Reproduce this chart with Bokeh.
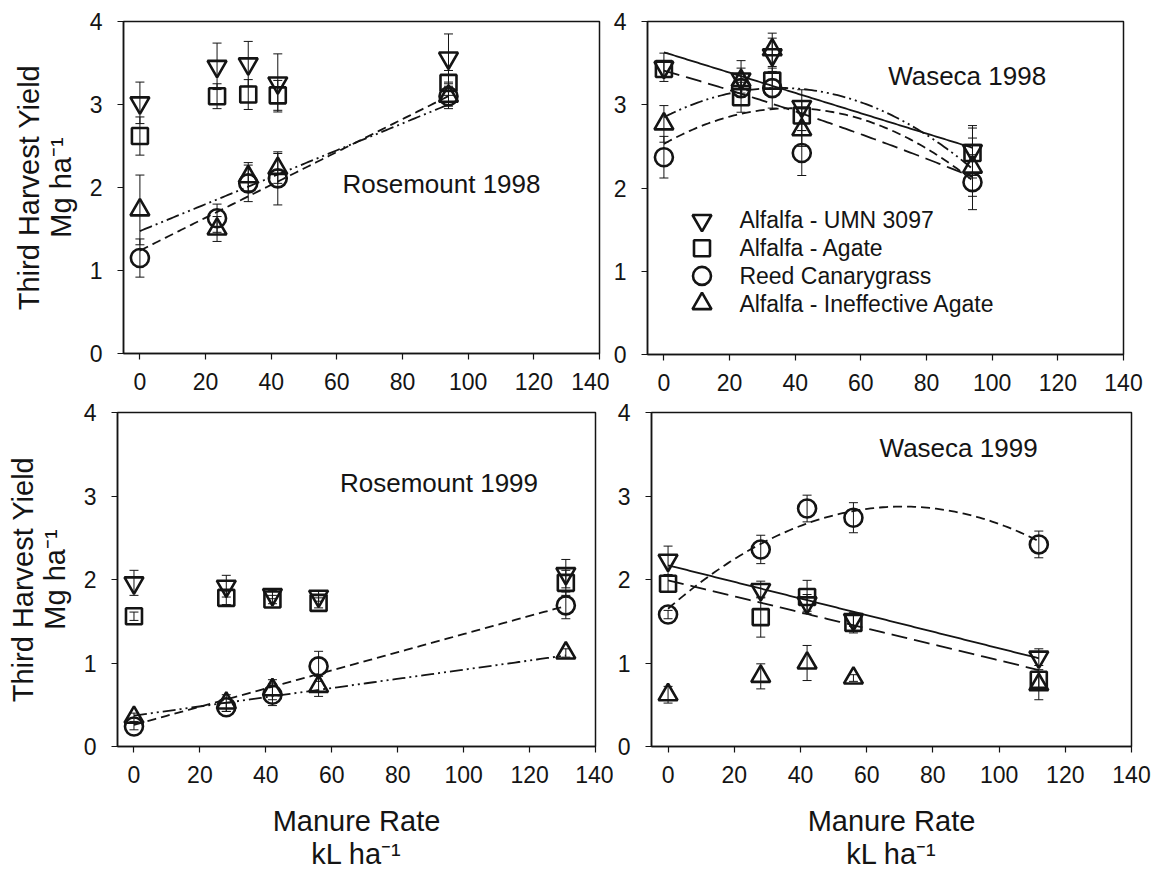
import numpy as np
from bokeh.plotting import figure
from bokeh.layouts import column, row
from bokeh.models import ColumnDataSource, Whisker, TeeHead, Label, FixedTicker
from bokeh.embed import file_html
from bokeh.resources import INLINE

# ---------------- data ----------------
series_names = ["Alfalfa - UMN 3097", "Alfalfa - Agate", "Reed Canarygrass",
                "Alfalfa - Ineffective Agate"]
x_ticks = [0, 20, 40, 60, 80, 100, 120, 140]
y_ticks = [0, 1, 2, 3, 4]

# Rosemount 1998
ros98_rate = [0, 23.5, 33, 42, 94]
ros98_umn = [3.02, 3.46, 3.49, 3.26, 3.56]
ros98_umn_err = [0.25, 0.28, 0.27, 0.35, 0.29]
ros98_agate = [2.62, 3.10, 3.12, 3.11, 3.26]
ros98_agate_err = [0.23, 0.15, 0.18, 0.18, 0.15]
ros98_rcg = [1.15, 1.63, 2.05, 2.11, 3.10]
ros98_rcg_err = [0.23, 0.17, 0.22, 0.32, 0.15]
ros98_ineff = [1.73, 1.50, 2.13, 2.23, 3.10]
ros98_ineff_err = [0.42, 0.15, 0.17, 0.18, 0.12]
ros98_fit_rcg = [1.24, 0.0198, 0.0]
ros98_fit_ineff = [1.475, 0.01622, 0.0]

# Waseca 1998
was98_rate = [0, 23.5, 33, 42, 94]
was98_umn = [3.45, 3.31, 3.60, 2.98, 2.45]
was98_umn_err = [0.17, 0.22, 0.20, 0.20, 0.30]
was98_agate = [3.43, 3.09, 3.29, 2.87, 2.42]
was98_agate_err = [0.10, 0.18, 0.10, 0.18, 0.30]
was98_rcg = [2.37, 3.20, 3.20, 2.42, 2.07]
was98_rcg_err = [0.25, 0.10, 0.24, 0.27, 0.33]
was98_ineff = [2.77, 3.29, 3.66, 2.70, 2.25]
was98_ineff_err = [0.22, 0.15, 0.20, 0.20, 0.35]
was98_fit_umn = [3.63, -0.0122, 0.0]
was98_fit_agate = [3.41, -0.01123, -0.0000251]
was98_fit_rcg = [2.53, 0.02206, -0.0002844]
was98_fit_ineff = [2.85, 0.01993, -0.0002822]

# Rosemount 1999
ros99_rate = [0, 28, 42, 56, 131]
ros99_umn = [1.96, 1.92, 1.82, 1.80, 2.07]
ros99_umn_err = [0.15, 0.13, 0.05, 0.06, 0.17]
ros99_agate = [1.56, 1.78, 1.76, 1.72, 1.96]
ros99_agate_err = [0.05, 0.08, 0.05, 0.06, 0.15]
ros99_rcg = [0.24, 0.47, 0.62, 0.96, 1.69]
ros99_rcg_err = [0.04, 0.05, 0.13, 0.18, 0.16]
ros99_ineff = [0.35, 0.52, 0.68, 0.72, 1.12]
ros99_ineff_err = [0.05, 0.10, 0.12, 0.12, 0.05]
ros99_fit_rcg = [0.26, 0.01086, 0.0]
ros99_fit_ineff = [0.37, 0.0055, 0.0]

# Waseca 1999
was99_rate = [0, 28, 42, 56, 112]
was99_umn = [2.23, 1.88, 1.72, 1.52, 1.07]
was99_umn_err = [0.17, 0.10, 0.10, 0.08, 0.10]
was99_agate = [1.95, 1.55, 1.79, 1.48, 0.80]
was99_agate_err = [0.10, 0.24, 0.20, 0.12, 0.10]
was99_rcg = [1.58, 2.36, 2.85, 2.74, 2.42]
was99_rcg_err = [0.05, 0.17, 0.16, 0.18, 0.16]
was99_ineff = [0.62, 0.84, 1.00, 0.82, 0.74]
was99_ineff_err = [0.10, 0.15, 0.21, 0.04, 0.18]
was99_fit_umn = [2.17, -0.00994, 0.0]
was99_fit_agate = [1.99, -0.00959, 0.0]
was99_fit_rcg = [1.65, 0.03457, -0.0002442]

# ---------------- style ----------------
FONT = "Liberation Sans"
INK = "#141414"
MARKERS = ["inverted_triangle", "square", "circle", "triangle"]
MSIZE = [19, 16, 18, 19]
DASH = ["solid", "16 7", "9 5", "13 4 2 4 2 4"]


def make_panel(rate, ys, errs, fits, title, title_xy, fw, fh, bl, br, bt, bb,
               ylabel=None, xlabel=None, legend=False):
    p = figure(frame_width=fw, frame_height=fh, x_range=(-5, 140), y_range=(0, 4),
               output_backend="svg", toolbar_location=None,
               min_border_left=bl, min_border_right=br,
               min_border_top=bt, min_border_bottom=bb)
    p.background_fill_color = "white"
    p.border_fill_color = "white"
    p.outline_line_color = INK
    p.outline_line_width = 1.5
    p.xgrid.visible = False
    p.ygrid.visible = False
    for ax, ticks in ((p.xaxis[0], x_ticks), (p.yaxis[0], y_ticks)):
        ax.ticker = FixedTicker(ticks=ticks)
        ax.axis_line_color = INK
        ax.axis_line_width = 1.5
        ax.major_tick_line_color = INK
        ax.major_tick_line_width = 1.2
        ax.major_tick_in = 0
        ax.major_tick_out = 6
        ax.minor_tick_line_color = None
        ax.major_label_text_font = FONT
        ax.major_label_text_font_size = "23px"
        ax.major_label_text_color = INK
        ax.axis_label_text_font = FONT
        ax.axis_label_text_font_size = "29px"
        ax.axis_label_text_font_style = "normal"
        ax.axis_label_text_color = INK
    p.xaxis.major_label_standoff = 13
    p.yaxis.major_label_standoff = 15
    p.xaxis.axis_label_text_line_height = 1.05
    p.yaxis.axis_label_text_line_height = 1.0
    if ylabel:
        p.yaxis.axis_label = ylabel
        p.yaxis.axis_label_standoff = 10
    else:
        p.yaxis.axis_label = None
        p.yaxis.axis_label_standoff = 0
    if xlabel:
        p.xaxis.axis_label = xlabel
        p.xaxis.axis_label_standoff = 19
    else:
        p.xaxis.axis_label = None
        p.xaxis.axis_label_standoff = 0

    # fitted curves
    for idx, coef in fits:
        xs = np.linspace(0, max(rate), 120)
        yv = coef[0] + coef[1] * xs + coef[2] * xs ** 2
        p.line(xs, yv, line_color=INK, line_width=1.8, line_dash=DASH[idx])

    # error bars + markers
    for i in range(4):
        y = np.array(ys[i])
        e = np.array(errs[i])
        src = ColumnDataSource(dict(x=rate, y=y, upper=y + e, lower=y - e))
        w = Whisker(source=src, base="x", upper="upper", lower="lower",
                    dimension="height", line_color=INK, line_width=1,
                    upper_head=TeeHead(size=9, line_color=INK, line_width=1),
                    lower_head=TeeHead(size=9, line_color=INK, line_width=1))
        p.add_layout(w)
        p.scatter("x", "y", source=src, marker=MARKERS[i], size=MSIZE[i],
                  line_color=INK, line_width=2.6, fill_alpha=0)

    p.add_layout(Label(x=title_xy[0], y=title_xy[1], text=title,
                       text_font=FONT, text_font_size="26px", text_color=INK,
                       text_align="left", text_baseline="middle"))

    if legend:
        lx, tx, ly0, ldy = 11.6, 23, 1.61, 0.333
        for i in range(4):
            ly = ly0 - i * ldy
            p.scatter([lx], [ly], marker=MARKERS[i], size=MSIZE[i],
                      line_color=INK, line_width=2.6, fill_alpha=0)
            p.add_layout(Label(x=tx, y=ly, text=series_names[i],
                               text_font=FONT, text_font_size="23px",
                               text_color=INK, text_align="left",
                               text_baseline="middle"))
    return p


YLAB = "Third Harvest Yield\nMg ha\u207b\u00b9"
XLAB = "Manure Rate\nkL ha\u207b\u00b9"

p1 = make_panel(ros98_rate,
                [ros98_umn, ros98_agate, ros98_rcg, ros98_ineff],
                [ros98_umn_err, ros98_agate_err, ros98_rcg_err, ros98_ineff_err],
                [(2, ros98_fit_rcg), (3, ros98_fit_ineff)],
                "Rosemount 1998", (61.7, 2.04),
                476, 332, 123, 10, 20, 44, ylabel=YLAB)

p2 = make_panel(was98_rate,
                [was98_umn, was98_agate, was98_rcg, was98_ineff],
                [was98_umn_err, was98_agate_err, was98_rcg_err, was98_ineff_err],
                [(0, was98_fit_umn), (1, was98_fit_agate), (2, was98_fit_rcg),
                 (3, was98_fit_ineff)],
                "Waseca 1998", (68.3, 3.34),
                476, 333, 38, 25, 21, 42, legend=True)

p3 = make_panel(ros99_rate,
                [ros99_umn, ros99_agate, ros99_rcg, ros99_ineff],
                [ros99_umn_err, ros99_agate_err, ros99_rcg_err, ros99_ineff_err],
                [(2, ros99_fit_rcg), (3, ros99_fit_ineff)],
                "Rosemount 1999", (62.5, 3.16),
                478, 334, 117, 18, 12, 127, ylabel=YLAB, xlabel=XLAB)

p4 = make_panel(was99_rate,
                [was99_umn, was99_agate, was99_rcg, was99_ineff],
                [was99_umn_err, was99_agate_err, was99_rcg_err, was99_ineff_err],
                [(0, was99_fit_umn), (1, was99_fit_agate), (2, was99_fit_rcg)],
                "Waseca 1999", (63.9, 3.57),
                480, 334, 38, 20, 16, 123, xlabel=XLAB)

layout = column(row(p1, p2), row(p3, p4))
open("out.html", "w").write(file_html(layout, INLINE))
